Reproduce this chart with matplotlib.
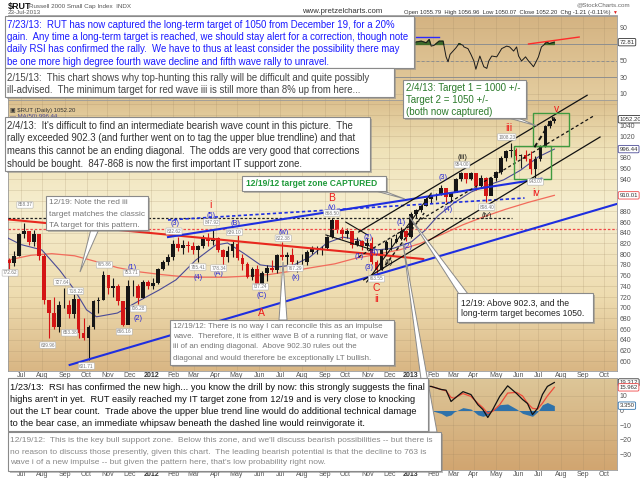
import numpy as np
import pandas as pd
import matplotlib
matplotlib.use('Agg')
import matplotlib.pyplot as plt
from matplotlib.patches import Rectangle, Polygon
from matplotlib.colors import LinearSegmentedColormap

plt.rcParams['font.family'] = ['Liberation Sans', 'DejaVu Sans']

# ---------------- DATA ----------------
week_end = list(pd.date_range('2011-06-17', '2013-07-19', freq='W-FRI').strftime('%Y-%m-%d')) + ['2013-07-23']
first_open = 790
closes = [784, 797, 837, 843, 822, 838, 797, 714, 690, 664, 705, 705, 688, 716, 652, 644, 664, 712, 714, 762,
          737, 741, 712, 667, 740, 741, 718, 748, 741,
          747, 772, 786, 794, 819, 812, 817, 816, 808, 815, 830, 824, 830, 808, 794, 806, 819, 793, 781, 758,
          772, 738, 765, 775, 771, 798, 794, 799, 786, 786, 786, 804, 810, 811, 812, 832, 864, 845, 837, 843,
          818, 824, 816, 820, 786, 771, 808, 822, 822, 828, 844, 832,
          875, 883, 891, 904, 911, 911, 923, 906, 915, 940, 951, 941, 952, 928, 943, 909, 942, 954, 980, 993,
          994, 984, 985, 978, 959, 977, 1002, 1040, 1049, 1052.2]
highs = [792, 806, 840, 858, 842, 845, 838, 800, 712, 720, 712, 737, 715, 726, 715, 680, 668, 715, 720, 769,
         753, 755, 745, 712, 751, 751, 745, 752, 752,
         755, 775, 790, 801, 826, 832, 826, 824, 823, 818, 836, 840, 848, 833, 810, 815, 824, 835, 800, 785,
         777, 780, 768, 780, 790, 800, 822, 805, 812, 790, 800, 808, 815, 815, 816, 834, 868.5, 862, 850, 849,
         843, 832, 827, 830, 832, 790, 810, 826, 830, 838, 850, 845,
         878, 885, 892, 906, 912, 915, 930, 924, 917, 942, 954, 952, 954, 952, 948, 945, 944, 956, 984, 995,
         1008, 998, 988, 994, 992, 983, 1004, 1042, 1050, 1057]
lows = [772, 778, 796, 830, 818, 815, 790, 706, 643, 660, 655, 700, 680, 680, 643, 640, 602, 660, 690, 715,
        725, 720, 705, 666, 680, 722, 706, 718, 735,
        735, 745, 770, 780, 790, 806, 800, 805, 800, 785, 812, 815, 817, 805, 778, 785, 795, 790, 770, 755,
        752, 745, 737, 750, 766, 765, 790, 780, 780, 767, 770, 780, 800, 800, 798, 808, 830, 840, 828, 830,
        812, 815, 807, 808, 782, 763.5, 770, 800, 808, 820, 826, 825,
        830, 868, 878, 890, 896, 902, 910, 898, 898, 917, 936, 933, 938, 920, 925, 897, 912, 936, 950, 975,
        981, 976, 962, 975, 950, 943, 975, 1000, 1035, 1045]

ma50_dates = ['2011-06-14', '2011-07-01', '2011-08-01', '2011-08-25', '2011-09-15', '2011-10-03', '2011-10-17',
              '2011-11-15', '2011-12-16', '2012-01-12', '2012-02-06', '2012-03-05', '2012-04-02', '2012-04-18',
              '2012-05-10', '2012-06-04', '2012-06-27', '2012-07-20', '2012-08-13', '2012-09-05', '2012-09-27',
              '2012-10-22', '2012-11-14', '2012-12-07', '2013-01-02', '2013-01-22', '2013-02-08', '2013-03-04',
              '2013-03-27', '2013-04-19', '2013-05-13', '2013-06-05', '2013-07-01', '2013-07-23']
ma50 = [830, 818, 808, 770, 733, 696, 683, 690, 714, 733, 752, 789, 817, 821, 802, 780, 776, 780, 795, 821,
        832, 826, 808, 811, 823, 845, 872, 896, 916, 929, 939, 957, 982, 996.44]
ma200_dates = ['2011-06-14', '2011-07-15', '2011-08-15', '2011-09-15', '2011-10-15', '2011-11-15', '2011-12-15',
               '2012-01-15', '2012-02-15', '2012-03-15', '2012-04-15', '2012-05-15', '2012-06-15', '2012-07-15',
               '2012-08-15', '2012-09-15', '2012-10-15', '2012-11-15', '2012-12-15', '2013-01-15', '2013-02-15',
               '2013-03-15', '2013-04-15', '2013-05-15', '2013-06-15', '2013-07-23']
ma200 = [789, 798, 801, 797, 786, 775, 767, 762, 758, 757, 757, 759, 762, 768, 775, 782, 792, 800, 808, 820,
         838, 855, 870, 884, 897, 910.01]

rsi_dates = ['2012-12-20', '2013-01-02', '2013-01-09', '2013-01-16', '2013-01-23', '2013-01-28', '2013-01-30',
             '2013-02-04', '2013-02-11', '2013-02-15', '2013-02-20', '2013-02-22', '2013-02-26', '2013-03-01',
             '2013-03-06', '2013-03-11', '2013-03-15', '2013-03-18', '2013-03-22', '2013-03-27', '2013-04-01',
             '2013-04-03', '2013-04-09', '2013-04-15', '2013-04-18', '2013-04-22', '2013-04-25', '2013-05-02',
             '2013-05-09', '2013-05-16', '2013-05-21', '2013-05-27', '2013-05-30', '2013-06-03', '2013-06-06',
             '2013-06-12', '2013-06-17', '2013-06-20', '2013-06-24', '2013-06-27', '2013-07-01', '2013-07-04',
             '2013-07-09', '2013-07-11', '2013-07-16', '2013-07-23']
rsi = [62, 70, 73, 74, 72, 76, 68, 69, 74, 74, 55, 49, 58, 62, 66, 71, 69, 67, 65, 58, 50, 40, 56, 43, 41, 50,
       56, 55, 65, 68, 67, 62, 67, 56, 50, 55, 50, 46, 43, 50, 55, 67, 70, 73, 71, 72.8]
rsi_blue = [('2013-01-09', 79), ('2013-02-11', 79)]
rsi_red = [('2013-06-17', 70.6), ('2013-08-27', 79)]

ind_dates = ['2013-01-02', '2013-01-15', '2013-01-30', '2013-02-13', '2013-02-20', '2013-02-27', '2013-03-04',
             '2013-03-15', '2013-03-27', '2013-04-05', '2013-04-12', '2013-04-19', '2013-04-26', '2013-05-07',
             '2013-05-17', '2013-05-30', '2013-06-07', '2013-06-14', '2013-06-21', '2013-06-28', '2013-07-05',
             '2013-07-12', '2013-07-23']
ind_line = [14, 17, 16.6, 14.5, 14, 6.2, 8, 13, 11, 4, 0.7, -4.8, 0.7, 9.7, 17, 11.7, 7.6, 4.8, -2.8, 1.4, 11,
            16.6, 19.31]
ind_signal = [12, 15, 16.6, 14.5, 13.5, 9, 8.5, 11.7, 9.7, 5, 2, -2, -0.5, 4, 12, 12.5, 10, 5, 1.5, 1, 5, 10,
              15.96]
ind_hist = [1, 1, 0, -2, -4, -3, -1, 2, 1, -3, -4, -3, 1, 4, 4.5, 1, -2, -3, -4, -1, 4, 5.5, 3.35]

red_trend = [('2011-06-14', 865), ('2013-01-18', 791)]
red_dot_level = 848
black_dash_level = (868.5, '2011-06-14', '2013-05-23')
blue_upper = [('2012-01-25', 832), ('2013-07-04', 941)]
blue_dotted = [('2012-01-25', 864), ('2013-06-11', 905)]
blue_lower = [('2011-09-08', 593), ('2013-10-18', 894)]
chan_upper = [('2012-10-19', 841.5), ('2013-09-06', 1097)]
chan_mid = [('2012-10-19', 795), ('2013-09-18', 1060)]
chan_lower = [('2012-10-26', 752), ('2013-09-25', 1019)]
wedge_a = [('2012-09-04', 836), ('2012-11-08', 808)]
wedge_b = [('2012-10-02', 860), ('2012-11-01', 836)]
steep_line = [('2012-10-31', 748), ('2013-01-30', 914)]
path_dash = [('2012-11-21', 770), ('2013-01-21', 877)]
proj_dash = [('2013-06-25', 1000), ('2013-07-22', 1056)]
zones = [('2013-06-24', '2013-08-13', 1002, 1064), ('2013-05-27', '2013-07-18', 940, 1002)]

wave_labels = [
    ('2011-12-06', 776, '(1)', 'b'), ('2011-12-14', 679, '(2)', 'b'), ('2012-02-03', 858, '(3)', 'b'),
    ('2012-03-07', 757, '(4)', 'b'), ('2012-03-26', 873, '(5)', 'b'), ('2012-03-26', 892, 'i', 'r'),
    ('2012-04-05', 763, '(A)', 'b'), ('2012-04-30', 858, '(B)', 'b'), ('2012-06-05', 722, '(C)', 'b'),
    ('2012-06-05', 690, 'A', 'r'), ('2012-07-05', 841, '(w)', 'b'), ('2012-07-24', 757, '(x)', 'b'),
    ('2012-09-12', 905, 'B', 'r'), ('2012-09-12', 887, '(y)', 'b'), ('2012-10-19', 795, '(1)', 'b'),
    ('2012-11-01', 832, '(2)', 'b'), ('2012-11-02', 776, '(3)', 'b'), ('2012-11-09', 803, '(4)', 'b'),
    ('2012-11-14', 737, 'C', 'r'), ('2012-11-14', 716, 'ii', 'r'), ('2012-11-30', 785, '(ii)', 'k'),
    ('2012-12-19', 860, '(1)', 'b'), ('2012-12-28', 815, '(2)', 'b'), ('2013-02-15', 944, '(3)', 'b'),
    ('2013-02-22', 883, '(4)', 'b'), ('2013-03-14', 980, '(iii)', 'k'), ('2013-04-18', 873, '(iv)', 'k'),
    ('2013-05-20', 1036, 'iii', 'r'), ('2013-06-27', 914, 'iv', 'r'), ('2013-07-25', 1071, 'v', 'r')]

value_labels = [
    ('2011-07-07', 892, '858.37'), ('2011-06-16', 765, '772.62'), ('2011-08-09', 630, '639.96'),
    ('2011-08-29', 748, '727.64'), ('2011-09-16', 731, '718.22'), ('2011-09-08', 653, '653.38'),
    ('2011-10-03', 591, '601.71'), ('2011-10-27', 780, '765.86'), ('2011-12-05', 765, '753.71'),
    ('2011-11-24', 655, '666.16'), ('2011-12-14', 698, '706.28'), ('2012-02-02', 843, '832.62'),
    ('2012-03-07', 776, '785.41'), ('2012-03-27', 860, '847.92'), ('2012-04-05', 774, '778.34'),
    ('2012-04-27', 841, '839.10'), ('2012-06-04', 739, '737.24'), ('2012-07-05', 830, '822.38'),
    ('2012-07-23', 774, '767.29'), ('2012-09-12', 877, '868.50'), ('2012-11-14', 754, '763.55'),
    ('2013-03-14', 967, '954.00'), ('2013-04-18', 888, '898.40'), ('2013-05-16', 1019, '1008.23'),
    ('2013-06-26', 935, '943.07')]

# ---------------- LAYOUT ----------------
W, H = 640, 479
fig = plt.figure(figsize=(6.4, 4.79), dpi=100)
fig.patch.set_facecolor('white')


def pax(x0, y0, x1, y1):
    return fig.add_axes([x0 / W, 1 - y1 / H, (x1 - x0) / W, (y1 - y0) / H])


BASE = np.datetime64('2011-01-03')


def bidx(d):
    return np.busday_count(BASE, np.array(d, dtype='datetime64[D]')).astype(float)


X0 = bidx('2011-07-01')
X1 = bidx('2013-10-01')
s = (604 - 21) / (X1 - X0)
xl, xr = X0 - (21 - 8) / s, X0 + (617 - 21) / s

ax_r = pax(8, 16, 617, 100)
ax_m = pax(8, 100, 617, 371)
ax_b = pax(8, 378, 617, 470)

months = pd.date_range('2011-07-01', '2013-10-01', freq='MS')
mx = [bidx(np.busday_offset(np.datetime64(m.date()), 0, roll='forward')) for m in months]
mlab = [m.strftime('%b') if m.month != 1 else str(m.year) for m in months]


def grad_bg(ax, stops):
    cmap = LinearSegmentedColormap.from_list('g', stops)
    arr = np.linspace(0, 1, 256).reshape(-1, 1)
    ax.imshow(arr, cmap=cmap, aspect='auto', extent=[0, 1, 0, 1], transform=ax.transAxes,
              zorder=0, origin='upper')


grad_bg(ax_r, [(0, '#d4b382'), (1, '#e4cd9f')])
grad_bg(ax_m, [(0, '#dcc08e'), (0.18, '#efe2b8'), (0.4, '#f6eecf'), (0.72, '#eedcb0'), (1, '#d9b684')])
grad_bg(ax_b, [(0, '#ddc698'), (1, '#d1a570')])

for ax in (ax_r, ax_m, ax_b):
    ax.set_xlim(xl, xr)
    ax.yaxis.tick_right()
    ax.tick_params(axis='both', length=0, labelsize=5, colors='#555555', pad=2)
    for sp in ax.spines.values():
        sp.set_color('#9a9a9a')
        sp.set_linewidth(0.6)
    ax.set_xticks(mx)
    ax.set_axisbelow(True)
    ax.grid(True, color='#9c8460', lw=0.4, alpha=0.35)

ax_r.set_xticklabels([])
for ax in (ax_m, ax_b):
    ax.set_xticklabels(mlab)
    ax.tick_params(axis='x', pad=1)
    for t in ax.get_xticklabels():
        if t.get_text().isdigit():
            t.set_fontweight('bold')
            t.set_color('#333333')

# ---- RSI panel ----
ax_r.set_ylim(2.7, 104.5)
ax_r.set_yticks([10, 30, 50, 70, 90])
ax_r.set_yticklabels(['10', '30', '50', '', '90'])
for lv, ls in ((70, '-'), (30, '-'), (50, (0, (3, 2)))):
    ax_r.axhline(lv, color='#8f8f8f', lw=0.7, ls=ls, zorder=1)
rx = bidx(rsi_dates)
ra = np.array(rsi)
ax_r.fill_between(rx, 70, ra, where=ra >= 70, interpolate=True, color='#3d6a2a', zorder=2)
ax_r.plot(rx, ra, color='#1a1a1a', lw=0.7, zorder=3)
ax_r.plot(bidx([d for d, _ in rsi_blue]), [v for _, v in rsi_blue], color='#2a2aff', lw=1.0, zorder=4)
ax_r.plot(bidx([d for d, _ in rsi_red]), [v for _, v in rsi_red], color='#ff2a2a', lw=1.0, zorder=4)

# ---- Main price panel ----
ax_m.set_ylim(581.7, 1088.2)
yt = list(range(600, 1081, 20))
ax_m.set_yticks(yt)
ax_m.set_yticklabels([str(v) if v <= 1040 and v not in (900, 920, 1000) else '' for v in yt])

wx = bidx(week_end) - np.array([pd.Timestamp(d).weekday() / 2 for d in week_end])
opens = np.array([first_open] + closes[:-1], dtype=float)
cl = np.array(closes, dtype=float)
col = np.where(cl >= opens, '#161616', '#d41515')
ax_m.plot(bidx(ma200_dates), ma200, color='#f26b5b', lw=0.9, zorder=3)
ax_m.plot(bidx(ma50_dates), ma50, color='#4a4a96', lw=0.8, zorder=3)
ax_m.vlines(wx, lows, highs, colors=col, lw=0.8, zorder=4)
ax_m.bar(wx, cl - opens, bottom=opens, width=3.8, color=col, linewidth=0, zorder=4)


def seg(ax, pts, **kw):
    ax.plot(bidx([d for d, _ in pts]), [v for _, v in pts], **kw)


seg(ax_m, red_trend, color='#e8281e', lw=1.5, zorder=5)
ax_m.axhline(red_dot_level, color='#f04848', lw=0.9, ls=(0, (2, 1.5)), zorder=5)
lv, d0, d1 = black_dash_level
ax_m.plot([bidx(d0), bidx(d1)], [lv, lv], color='#222222', lw=0.9, ls=(0, (2, 1.5)), zorder=5)
seg(ax_m, blue_upper, color='#1e2ee0', lw=1.5, zorder=5)
seg(ax_m, blue_dotted, color='#1e2ee0', lw=1.2, ls=(0, (2, 1.5)), zorder=5)
seg(ax_m, blue_lower, color='#1e2ee0', lw=1.5, zorder=5)
seg(ax_m, chan_upper, color='#111111', lw=0.9, zorder=5, clip_on=False)
seg(ax_m, chan_mid, color='#111111', lw=0.9, ls=(0, (2.5, 2)), zorder=5)
seg(ax_m, chan_lower, color='#111111', lw=0.9, zorder=5)
seg(ax_m, wedge_a, color='#111111', lw=0.8, zorder=5)
seg(ax_m, wedge_b, color='#111111', lw=0.8, zorder=5)
seg(ax_m, steep_line, color='#111111', lw=0.8, zorder=5)
seg(ax_m, path_dash, color='#111111', lw=1.0, ls=(0, (2.5, 2)), zorder=5)
seg(ax_m, proj_dash, color='#111111', lw=1.4, ls=(0, (2.5, 1.8)), zorder=6)
for d0, d1, p0, p1 in zones:
    ax_m.add_patch(Rectangle((bidx(d0), p0), bidx(d1) - bidx(d0), p1 - p0, fill=False,
                             ec='#3f9a3f', lw=1.0, zorder=5))

cmap_lbl = {'b': '#2424d8', 'r': '#ee1a1a', 'k': '#111111'}
for d, p, t, c in wave_labels:
    big = c == 'r'
    ax_m.text(bidx(d), p, t, color=cmap_lbl[c], fontsize=7.5 if big else 5.2, ha='center', va='center',
              zorder=7)
for d, p, t in value_labels:
    ax_m.text(bidx(d), p, t, color='#777777', fontsize=3.4, ha='center', va='center', zorder=7,
              bbox=dict(boxstyle='round,pad=0.15', fc='white', ec='#b0b0b0', lw=0.4))

# ---- bottom indicator panel ----
ax_b.set_ylim(-41.0, 22.4)
ax_b.set_yticks([-30, -20, -10, 0, 10])
ix = bidx(ind_dates)
ax_b.fill_between(ix, 0, ind_hist, color='#2f72aa', lw=0, zorder=2)
ax_b.plot(ix, ind_signal, color='#f04a3a', lw=0.9, zorder=3)
ax_b.plot(ix, ind_line, color='#111111', lw=0.9, zorder=4)


def vbox(ax, val, txt, ec):
    ax.text(1.004, val, txt, transform=ax.get_yaxis_transform(), fontsize=4.3, color='#333333',
            ha='left', va='center', clip_on=False, zorder=8,
            bbox=dict(boxstyle='round,pad=0.2', fc='white', ec=ec, lw=0.6))


vbox(ax_m, 1052.2, '1052.20', '#333333')
vbox(ax_m, 996.44, '996.44', '#4a4a96')
vbox(ax_m, 910.01, '910.01', '#f04848')
vbox(ax_r, 72.8, '72.81', '#333333')
vbox(ax_b, 19.31, '19.312', '#333333')
vbox(ax_b, 15.96, '15.962', '#f04848')
vbox(ax_b, 3.35, '3.350', '#2f72aa')

# ---------------- OVERLAY: header, text boxes ----------------
ov = fig.add_axes([0, 0, 1, 1], zorder=10)
ov.set_xlim(0, W)
ov.set_ylim(H, 0)
ov.axis('off')
R = fig.canvas.get_renderer()

ov.text(8, 6, '$RUT', fontsize=6.5, fontweight='bold', color='#111111', va='center')
ov.text(29, 6, 'Russell 2000 Small Cap Index  INDX', fontsize=4.5, color='#555555', va='center')
ov.text(8, 12, '23-Jul-2013', fontsize=4.5, color='#555555', va='center')
ov.text(302, 11, 'www.pretzelcharts.com', fontsize=5.6, color='#333333', va='center')
ov.text(630, 5, '@StockCharts.com', fontsize=4.5, color='#666666', va='center', ha='right')
ov.text(610, 12, 'Open 1055.79  High 1056.96  Low 1050.07  Close 1052.20  Chg -1.21 (-0.11%)',
        fontsize=4.2, color='#333333', va='center', ha='right')
ov.text(612, 12, '\u25bc', fontsize=3.5, color='#e02020', va='center', ha='left')
ov.plot([8, 617], [15, 15], color='#9a9a9a', lw=0.6)
ov.text(10, 110, '\u25a3 $RUT (Daily) 1052.20', fontsize=4.3, color='#333333', va='center')
ov.text(10, 116, '\u2014 MA(50) 996.44', fontsize=4.3, color='#4a4a96', va='center')


def measure(lines, fs, weight='normal'):
    ws = []
    for ln in lines:
        t = ov.text(0, 0, ln, fontsize=fs, fontweight=weight)
        ws.append(t.get_window_extent(renderer=R).width)
        t.remove()
    return max(ws)


def fit(lines, target, weight='normal'):
    return 7.0 * target / measure(lines, 7.0, weight)


def tail(pts):
    ov.add_patch(Polygon(pts, closed=True, fc='white', ec='#8a8a8a', lw=0.7, zorder=1))


def tbox(x0, y0, x1, y1, lines, ys, color, fs, weight='normal', tx=None):
    ov.add_patch(Rectangle((x0 + 2, y0 + 2), x1 - x0, y1 - y0, fc='#8c8c8c', ec='none', alpha=0.55,
                           zorder=2))
    ov.add_patch(Rectangle((x0, y0), x1 - x0, y1 - y0, fc='white', ec='#8a8a8a', lw=0.8, zorder=3))
    for ln, yy in zip(lines, ys):
        ov.text(x0 + 3 if tx is None else tx, yy, ln, color=color, fontsize=fs, fontweight=weight,
                va='center', ha='left', zorder=4)


A = ['7/23/13:  RUT has now captured the long-term target of 1050 from December 19, for a 20%',
     'gain.  Any time a long-term target is reached, we should stay alert for a correction, though note',
     'daily RSI has confirmed the rally.  We have to thus at least consider the possibility there may',
     'be one more high degree fourth wave decline and fifth wave rally to unravel.']
B = ['2/15/13:  This chart shows why top-hunting this rally will be difficult and quite possibly',
     'ill-advised.  The minimum target for red wave iii is still more than 8% up from here...']
C = ["2/4/13:  It's difficult to find an intermediate bearish wave count in this picture.  The",
     'rally exceeded 902.3 (and further went on to tag the upper blue trendline) and that',
     'means this cannot be an ending diagonal.  The odds are very good that corrections',
     'should be bought.  847-868 is now the first important IT support zone.']
D = ['2/4/13: Target 1 = 1000 +/-', 'Target 2 = 1050 +/-', '(both now captured)']
E = ['12/19/12 target zone CAPTURED']
F = ['12/19: Note the red iii', 'target matches the classic', 'TA target for this pattern.']
G = ['12/19/12: There is no way I can reconcile this as an impulse',
     'wave.  Therefore, it is either wave B of a running flat, or wave',
     'iii of an ending diagonal.  Above 902.30 rules out the',
     'diagonal and would therefore be exceptionally LT bullish.']
Hh = ['12/19: Above 902.3, and the', 'long-term target becomes 1050.']
I = ['1/23/13:  RSI has confirmed the new high... you know the drill by now: this strongly suggests the final',
     "highs aren't in yet.  RUT easily reached my IT target zone from 12/19 and is very close to knocking",
     'out the LT bear count.  Trade above the upper blue trend line would do additional technical damage',
     'to the bear case, an immediate whipsaw beneath the dashed line would reinvigorate it.']
J = ["12/19/12:  This is the key bull support zone.  Below this zone, and we'll discuss bearish possibilities -- but there is",
     'no reason to discuss those presently, given this chart.  The leading bearish potential is that the decline to 763 is',
     "wave i of a new impulse -- but given the pattern here, that's low probability right now."]

# tails (drawn under boxes)
fsD = 7.0
wD = measure(D, fsD)
tail([(505, 117), (516, 117), (537, 126)])
tail([(372, 190), (381, 190), (405, 199)])
tail([(91, 229), (99, 229), (80, 272)])
tail([(279, 320), (287, 320), (283, 262)])
tail([(459, 294), (468, 294), (409, 216)])
tail([(428, 432), (437, 432), (403, 243)])

tbox(5, 16, 414, 68, A, [25, 37, 49, 62], '#1a1aff', fit(A, 402), tx=7)
tbox(5, 68, 394, 97, B, [78, 90], '#444444', fit(B, 364), tx=7)
tbox(5, 117, 370, 171, C, [126, 138, 151, 164], '#333333', fit(C, 356), tx=7)
tbox(403, 80, 406 + wD + 5, 118, D, [88, 100, 112], '#2b7a2b', fsD, tx=406)
tbox(242, 176, 386, 191, E, [183.5], '#1f9a3a', fit(E, 132, 'bold'), weight='bold', tx=246)
tbox(46, 196, 148, 230, F, [203, 214, 225], '#777777', fit(F, 96), tx=49)
tbox(170, 320, 394, 365, G, [327, 337, 347, 358], '#777777', fit(G, 214), tx=173)
tbox(457, 293, 593, 322, Hh, [303, 314], '#222222', fit(Hh, 123), tx=461)
tbox(8, 378, 428, 431, I, [388, 399, 411, 423], '#111111', fit(I, 412), tx=10)
tbox(8, 432, 441, 471, J, [441, 452, 463], '#888888', fit(J, 421), tx=10)

fig.savefig('out.png', dpi=100)
